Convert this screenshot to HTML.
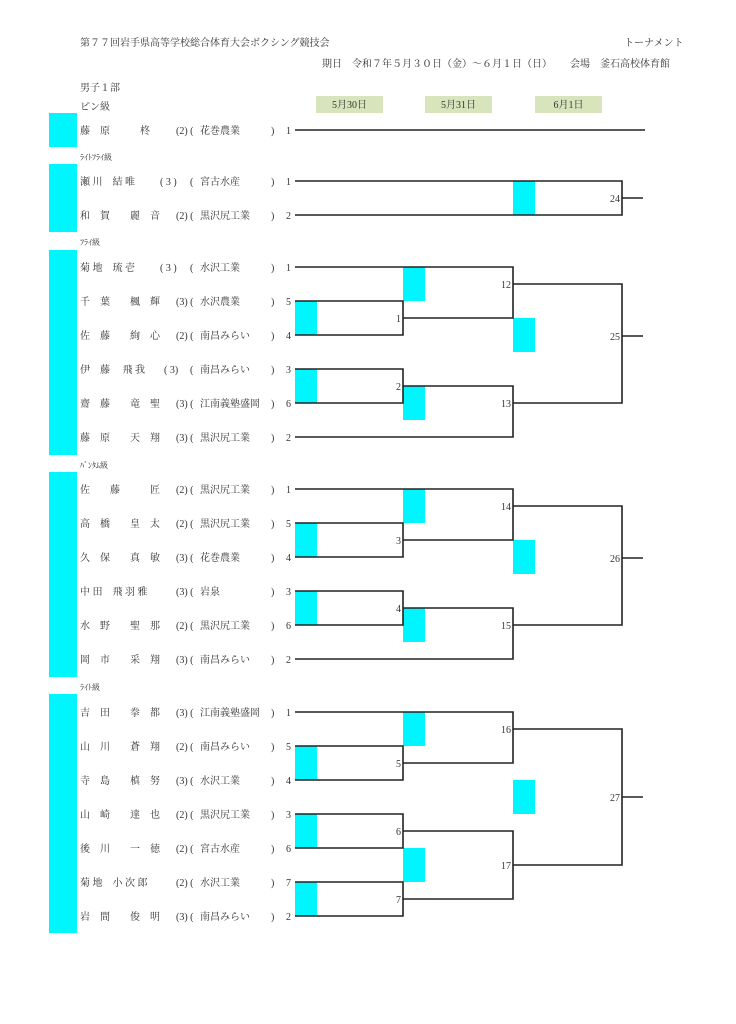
<!DOCTYPE html>
<html><head><meta charset="utf-8"><style>
html,body{margin:0;padding:0;background:#fff;}
body{width:736px;height:1024px;position:relative;overflow:hidden;}
svg{position:absolute;left:0;top:0;}
text{font-family:"Liberation Serif","Noto Serif CJK SC","Noto Sans CJK JP",serif;font-size:10px;fill:#333;}
.s{font-size:8px;}
</style></head><body>
<svg width="736" height="1024" viewBox="0 0 736 1024" xmlns="http://www.w3.org/2000/svg">
<g fill="#00f6ff">
<rect x="49" y="113" width="28" height="34"/>
<rect x="49" y="164" width="28" height="68"/>
<rect x="49" y="250" width="28" height="205"/>
<rect x="49" y="472" width="28" height="205"/>
<rect x="49" y="694" width="28" height="239"/>
<rect x="513" y="181" width="22" height="34"/>
<rect x="295" y="301" width="22" height="34"/><rect x="295" y="369" width="22" height="34"/>
<rect x="403" y="267" width="22" height="34"/><rect x="403" y="386" width="22" height="34"/>
<rect x="513" y="318" width="22" height="34"/>
<rect x="295" y="523" width="22" height="34"/><rect x="295" y="591" width="22" height="34"/>
<rect x="403" y="489" width="22" height="34"/><rect x="403" y="608" width="22" height="34"/>
<rect x="513" y="540" width="22" height="34"/>
<rect x="295" y="746" width="22" height="34"/><rect x="295" y="814" width="22" height="34"/><rect x="295" y="882" width="22" height="34"/>
<rect x="403" y="712" width="22" height="34"/><rect x="403" y="848" width="22" height="34"/>
<rect x="513" y="780" width="22" height="34"/>
</g>
<g fill="#d8e4bc">
<rect x="316" y="96" width="67" height="17"/>
<rect x="425" y="96" width="67" height="17"/>
<rect x="535" y="96" width="67" height="17"/>
</g>
<text x="349.5" y="108" text-anchor="middle">5月30日</text>
<text x="458.5" y="108" text-anchor="middle">5月31日</text>
<text x="568.5" y="108" text-anchor="middle">6月1日</text>
<text x="80" y="46">第７７回岩手県高等学校総合体育大会ボクシング競技会</text>
<text x="624" y="46">トーナメント</text>
<text x="322" y="67">期日　令和７年５月３０日（金）～６月１日（日）</text>
<text x="570" y="67">会場　釜石高校体育館</text>
<text x="80" y="91">男子１部</text>
<text x="80" y="110">ピン級</text>
<text x="80" y="160" class="s">ﾗｲﾄﾌﾗｲ級</text>
<text x="80" y="245" class="s">ﾌﾗｲ級</text>
<text x="80" y="468" class="s">ﾊﾞﾝﾀﾑ級</text>
<text x="80" y="690" class="s">ﾗｲﾄ級</text>
<g xml:space="preserve">
<text x="80" y="134">藤　原　　　柊</text><text x="176" y="134">(2) (</text><text x="200" y="134">花巻農業</text><text x="271" y="134">)</text><text x="286" y="134">1</text>
<text x="80" y="185">瀬 川　結 唯</text><text x="160" y="185">(  3  )</text><text x="190" y="185">(</text><text x="200" y="185">宮古水産</text><text x="271" y="185">)</text><text x="286" y="185">1</text>
<text x="80" y="219">和　賀　　麗　音</text><text x="176" y="219">(2) (</text><text x="200" y="219">黒沢尻工業</text><text x="271" y="219">)</text><text x="286" y="219">2</text>

<text x="80" y="271">菊 地　琉 壱</text><text x="160" y="271">(  3  )</text><text x="190" y="271">(</text><text x="200" y="271">水沢工業</text><text x="271" y="271">)</text><text x="286" y="271">1</text>
<text x="80" y="305">千　葉　　楓　輝</text><text x="176" y="305">(3) (</text><text x="200" y="305">水沢農業</text><text x="271" y="305">)</text><text x="286" y="305">5</text>
<text x="80" y="339">佐　藤　　絢　心</text><text x="176" y="339">(2) (</text><text x="200" y="339">南昌みらい</text><text x="271" y="339">)</text><text x="286" y="339">4</text>
<text x="80" y="373">伊　藤　 飛 我</text><text x="164" y="373">(  3)</text><text x="190" y="373">(</text><text x="200" y="373">南昌みらい</text><text x="271" y="373">)</text><text x="286" y="373">3</text>
<text x="80" y="407">齋　藤　　竜　聖</text><text x="176" y="407">(3) (</text><text x="200" y="407">江南義塾盛岡</text><text x="271" y="407">)</text><text x="286" y="407">6</text>
<text x="80" y="441">藤　原　　天　翔</text><text x="176" y="441">(3) (</text><text x="200" y="441">黒沢尻工業</text><text x="271" y="441">)</text><text x="286" y="441">2</text>

<text x="80" y="493">佐　　藤　　　匠</text><text x="176" y="493">(2) (</text><text x="200" y="493">黒沢尻工業</text><text x="271" y="493">)</text><text x="286" y="493">1</text>
<text x="80" y="527">高　橋　　皇　太</text><text x="176" y="527">(2) (</text><text x="200" y="527">黒沢尻工業</text><text x="271" y="527">)</text><text x="286" y="527">5</text>
<text x="80" y="561">久　保　　真　敏</text><text x="176" y="561">(3) (</text><text x="200" y="561">花巻農業</text><text x="271" y="561">)</text><text x="286" y="561">4</text>
<text x="80" y="595">中 田　飛 羽 雅</text><text x="176" y="595">(3) (</text><text x="200" y="595">岩泉</text><text x="271" y="595">)</text><text x="286" y="595">3</text>
<text x="80" y="629">水　野　　聖　那</text><text x="176" y="629">(2) (</text><text x="200" y="629">黒沢尻工業</text><text x="271" y="629">)</text><text x="286" y="629">6</text>
<text x="80" y="663">岡　市　　采　翔</text><text x="176" y="663">(3) (</text><text x="200" y="663">南昌みらい</text><text x="271" y="663">)</text><text x="286" y="663">2</text>

<text x="80" y="716">吉　田　　拳　都</text><text x="176" y="716">(3) (</text><text x="200" y="716">江南義塾盛岡</text><text x="271" y="716">)</text><text x="286" y="716">1</text>
<text x="80" y="750">山　川　　蒼　翔</text><text x="176" y="750">(2) (</text><text x="200" y="750">南昌みらい</text><text x="271" y="750">)</text><text x="286" y="750">5</text>
<text x="80" y="784">寺　島　　槙　努</text><text x="176" y="784">(3) (</text><text x="200" y="784">水沢工業</text><text x="271" y="784">)</text><text x="286" y="784">4</text>
<text x="80" y="818">山　崎　　達　也</text><text x="176" y="818">(2) (</text><text x="200" y="818">黒沢尻工業</text><text x="271" y="818">)</text><text x="286" y="818">3</text>
<text x="80" y="852">後　川　　一　徳</text><text x="176" y="852">(2) (</text><text x="200" y="852">宮古水産</text><text x="271" y="852">)</text><text x="286" y="852">6</text>
<text x="80" y="886">菊 地　小 次 郎</text><text x="176" y="886">(2) (</text><text x="200" y="886">水沢工業</text><text x="271" y="886">)</text><text x="286" y="886">7</text>
<text x="80" y="920">岩　間　　俊　明</text><text x="176" y="920">(3) (</text><text x="200" y="920">南昌みらい</text><text x="271" y="920">)</text><text x="286" y="920">2</text>
</g>
<g stroke="#222" stroke-width="1.6" fill="none">
<path d="M295 130H645"/>
<path d="M295 181H622V215H295M622 198H643"/>
<path d="M295 267H513V318H403M295 301H403V335H295M513 284H622V403H513M295 369H403V403H295M403 386H513V437H295M622 336H643"/>
<path d="M295 489H513V540H403M295 523H403V557H295M513 506H622V625H513M295 591H403V625H295M403 608H513V659H295M622 558H643"/>
<path d="M295 712H513V763H403M295 746H403V780H295M513 729H622V865H513M295 814H403V848H295M403 831H513V899H403M295 882H403V916H295M622 797H643"/>
</g>
<g text-anchor="end">
<text x="620" y="202">24</text>
<text x="401" y="322">1</text><text x="401" y="390">2</text><text x="511" y="288">12</text><text x="511" y="407">13</text><text x="620" y="340">25</text>
<text x="401" y="544">3</text><text x="401" y="612">4</text><text x="511" y="510">14</text><text x="511" y="629">15</text><text x="620" y="562">26</text>
<text x="401" y="767">5</text><text x="401" y="835">6</text><text x="401" y="903">7</text><text x="511" y="733">16</text><text x="511" y="869">17</text><text x="620" y="801">27</text>
</g>
</svg>
</body></html>
